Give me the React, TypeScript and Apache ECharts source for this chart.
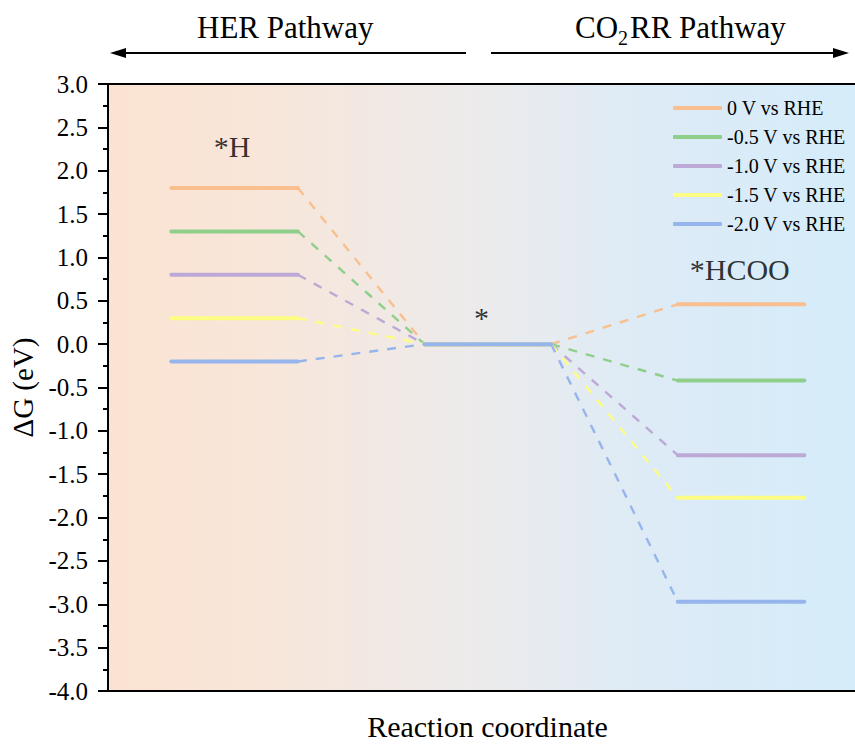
import React, { useEffect, useRef } from "react";
import * as echarts from "echarts";

const potentials = ["0 V vs RHE", "-0.5 V vs RHE", "-1.0 V vs RHE", "-1.5 V vs RHE", "-2.0 V vs RHE"];
const hValues = [1.8, 1.3, 0.8, 0.3, -0.2];
const starValues = [0, 0, 0, 0, 0];
const hcooValues = [0.46, -0.42, -1.28, -1.77, -2.97];
const colors = ["#F9BF8E", "#8FCF8B", "#BDA9D5", "#FDFD84", "#96B5EC"];
const stateLabels = ["*H", "*", "*HCOO"];
const stateLabelX = [1.48, 3.45, 5.49];
const stateLabelY = [2.28, 0.31, 0.86];

// layout: horizontal extents of each state's level
const levelStart = [1, 3, 5];
const levelEnd = [2, 4, 6];

const FONT = '"Liberation Serif", "Times New Roman", serif';

export default function App() {
  const ref = useRef<HTMLDivElement>(null);
  useEffect(() => {
    if (!ref.current) return;
    const chart = echarts.init(ref.current, undefined, { renderer: "svg" });
    const series: any[] = [];
    // solid levels first (legend takes its icon colour from these)
    potentials.forEach((name, i) => {
      const lv = [hValues[i], starValues[i], hcooValues[i]];
      const data: any[] = [];
      lv.forEach((v, k) => {
        data.push([levelStart[k], v]);
        data.push([levelEnd[k], v]);
        if (k < 2) data.push([(levelEnd[k] + levelStart[k + 1]) / 2, "-"]);
      });
      series.push({
        name,
        type: "line",
        symbol: "none",
        silent: true,
        z: 3,
        lineStyle: { color: colors[i], width: 4, cap: "round" },
        itemStyle: { color: colors[i] },
        data,
      });
    });
    potentials.forEach((name, i) => {
      const lv = [hValues[i], starValues[i], hcooValues[i]];
      series.push({
        name,
        type: "line",
        symbol: "none",
        silent: true,
        z: 2,
        lineStyle: { color: colors[i], width: 2.4, type: [9, 9] },
        itemStyle: { color: colors[i] },
        data: [[levelEnd[0], lv[0]], [levelStart[1], lv[1]], [(levelEnd[1] + levelStart[1]) / 2, "-"], [levelEnd[1], lv[1]], [levelStart[2], lv[2]]],
      });
    });
    series.push({
      type: "scatter",
      symbolSize: 0,
      silent: true,
      z: 5,
      label: {
        show: true,
        position: "inside",
        formatter: "{b}",
        fontFamily: FONT,
        fontSize: 30,
        color: "#000",
      },
      data: stateLabels.map((n, k) => ({ name: n, value: [stateLabelX[k], stateLabelY[k]] })),
    });

    chart.setOption({
      animation: false,
      grid: {
        left: 108,
        right: 0,
        top: 84,
        bottom: 53,
        outerBoundsMode: "none",
        containLabel: false,
        show: true,
        borderWidth: 0,
        backgroundColor: new echarts.graphic.LinearGradient(0, 0, 1, 0, [
          { offset: 0, color: "#FBE3D2" },
          { offset: 0.2, color: "#F8E6D9" },
          { offset: 0.5, color: "#ECEBEC" },
          { offset: 0.72, color: "#DDEBF6" },
          { offset: 1, color: "#D5ECFA" },
        ]),
      },
      legend: {
        data: potentials.map((n) => ({ name: n, icon: "roundRect" })),
        orient: "vertical",
        left: 668,
        top: 93,
        itemWidth: 49,
        itemHeight: 4,
        itemGap: 9,
        textStyle: { fontFamily: FONT, fontSize: 20, color: "#000", lineHeight: 20 },
        selectedMode: false,
      },
      xAxis: [
        {
          type: "value",
          min: 0.5,
          max: 6.4,
          position: "bottom",
          name: "Reaction coordinate",
          nameLocation: "middle",
          nameGap: 20,
          nameTextStyle: { fontFamily: FONT, fontSize: 30, lineHeight: 30, color: "#000", padding: [0, 0, 0, 12] },
          axisLine: { show: true, onZero: false, lineStyle: { color: "#000", width: 2 } },
          axisTick: { show: false },
          axisLabel: { show: false },
          splitLine: { show: false },
        },
        {
          type: "value",
          min: 0.5,
          max: 6.4,
          position: "top",
          axisLine: { show: true, onZero: false, lineStyle: { color: "#000", width: 2 } },
          axisTick: { show: false },
          axisLabel: { show: false },
          splitLine: { show: false },
        },
      ],
      yAxis: {
        type: "value",
        min: -4,
        max: 3,
        interval: 0.5,
        name: "ΔG (eV)",
        nameLocation: "middle",
        nameGap: 66,
        nameTextStyle: { fontFamily: FONT, fontSize: 29, color: "#000" },
        axisLine: { show: true, onZero: false, lineStyle: { color: "#000", width: 2 } },
        axisTick: { show: true, inside: false, length: 10, lineStyle: { color: "#000", width: 2 } },
        minorTick: { show: true, splitNumber: 2, length: 5, lineStyle: { color: "#000", width: 2 } },
        axisLabel: {
          margin: 20,
          fontFamily: FONT,
          fontSize: 25,
          color: "#000",
          formatter: (v: number) => v.toFixed(1),
        },
        splitLine: { show: false },
      },
      graphic: [
        {
          type: "text",
          x: 197,
          y: 12,
          style: { text: "HER Pathway", fontFamily: FONT, fontSize: 31, fill: "#000" },
        },
        {
          type: "text",
          x: 575,
          y: 12,
          style: { text: "CO", fontFamily: FONT, fontSize: 31, fill: "#000" },
        },
        {
          type: "text",
          x: 618,
          y: 28,
          style: { text: "2", fontFamily: FONT, fontSize: 20, fill: "#000" },
        },
        {
          type: "text",
          x: 630,
          y: 12,
          style: { text: "RR Pathway", fontFamily: FONT, fontSize: 31, fill: "#000" },
        },
        {
          type: "line",
          shape: { x1: 122, y1: 53, x2: 466, y2: 53 },
          style: { stroke: "#000", lineWidth: 2 },
        },
        {
          type: "polygon",
          shape: { points: [[110, 53], [126, 48], [126, 58]] },
          style: { fill: "#000" },
        },
        {
          type: "line",
          shape: { x1: 491, y1: 53, x2: 836, y2: 53 },
          style: { stroke: "#000", lineWidth: 2 },
        },
        {
          type: "polygon",
          shape: { points: [[849, 53], [833, 48], [833, 58]] },
          style: { fill: "#000" },
        },
      ],
      series,
    });
    return () => chart.dispose();
  }, []);
  return (
    <div
      ref={ref}
      style={{ position: "absolute", left: 0, top: 0, width: 855, height: 744, background: "#fff" }}
    />
  );
}
